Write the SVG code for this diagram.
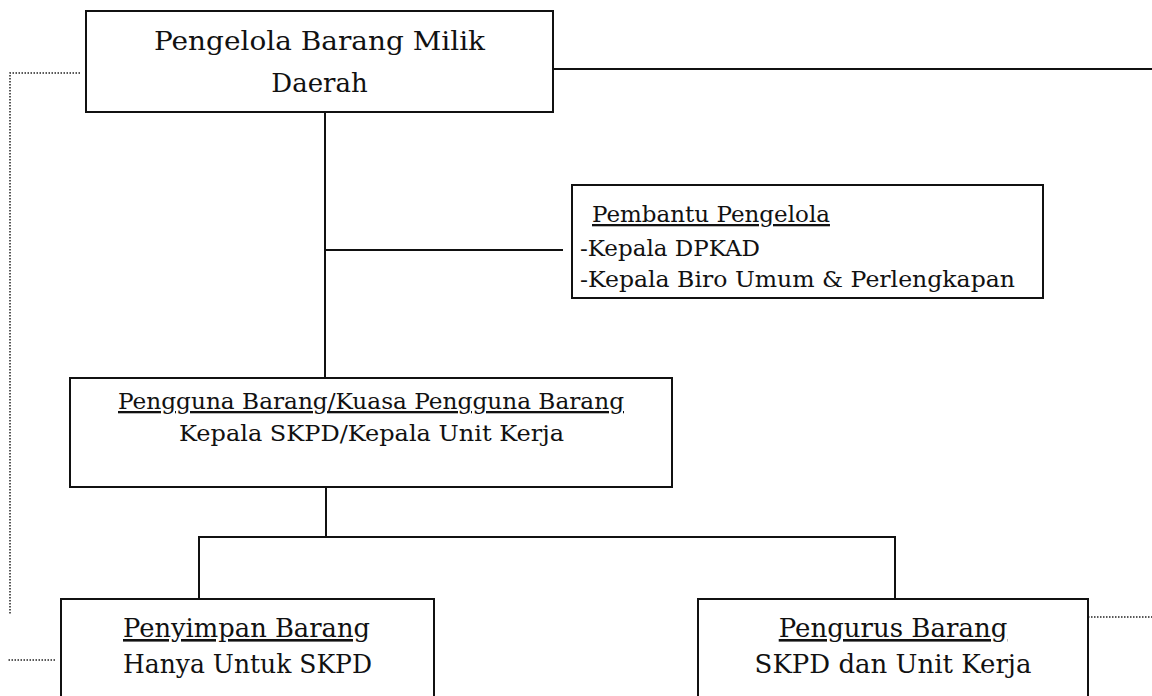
<svg xmlns="http://www.w3.org/2000/svg" width="1152" height="696" viewBox="0 0 1152 696">
<style>
.box{fill:#fff;stroke:#111;stroke-width:2}
.ln{fill:none;stroke:#111;stroke-width:2}
.dot{fill:none;stroke:#222;stroke-width:1.5;stroke-dasharray:1.5 1.5}
text{font-family:"DejaVu Serif","Liberation Serif",serif;fill:#111}
.big{font-size:26px}
.mid{font-size:23px}
.u{text-decoration:underline}
</style>
<rect width="1152" height="696" fill="#fff"/>
<g id="connectors">
<path class="ln" d="M553 69H1152"/>
<path class="dot" d="M80 73H10V615"/>
<path class="dot" d="M55 660H8"/>
<path class="dot" d="M1088 617H1152"/>
<path class="ln" d="M325 112V378"/>
<path class="ln" d="M325 250H563"/>
<path class="ln" d="M326 487V537"/>
<path class="ln" d="M199 599V537H895V599"/>
</g>
<g id="pengelola">
<rect class="box" x="86" y="11" width="467" height="101"/>
<text class="big" x="154" y="50" textLength="331" lengthAdjust="spacingAndGlyphs">Pengelola Barang Milik</text>
<text class="big" x="319.5" y="92" text-anchor="middle">Daerah</text>
</g>
<g id="pembantu">
<rect class="box" x="572" y="185" width="471" height="113"/>
<text class="mid u" x="592" y="222">Pembantu Pengelola</text>
<text class="mid" x="580" y="256">-Kepala DPKAD</text>
<text class="mid" x="580" y="287" textLength="435" lengthAdjust="spacingAndGlyphs">-Kepala Biro Umum &amp; Perlengkapan</text>
</g>
<g id="pengguna">
<rect class="box" x="70" y="378" width="602" height="109"/>
<text class="mid u" x="118" y="409" textLength="506" lengthAdjust="spacingAndGlyphs">Pengguna Barang/Kuasa Pengguna Barang</text>
<text class="mid" x="179" y="441" textLength="385" lengthAdjust="spacingAndGlyphs">Kepala SKPD/Kepala Unit Kerja</text>
</g>
<g id="penyimpan">
<rect class="box" x="61" y="599" width="373" height="110"/>
<text class="big u" x="123" y="637" textLength="247" lengthAdjust="spacingAndGlyphs">Penyimpan Barang</text>
<text class="big" x="123" y="673" textLength="249" lengthAdjust="spacingAndGlyphs">Hanya Untuk SKPD</text>
</g>
<g id="pengurus">
<rect class="box" x="698" y="599" width="390" height="110"/>
<text class="big u" x="893" y="637" text-anchor="middle">Pengurus Barang</text>
<text class="big" x="893" y="673" text-anchor="middle">SKPD dan Unit Kerja</text>
</g>
</svg>
